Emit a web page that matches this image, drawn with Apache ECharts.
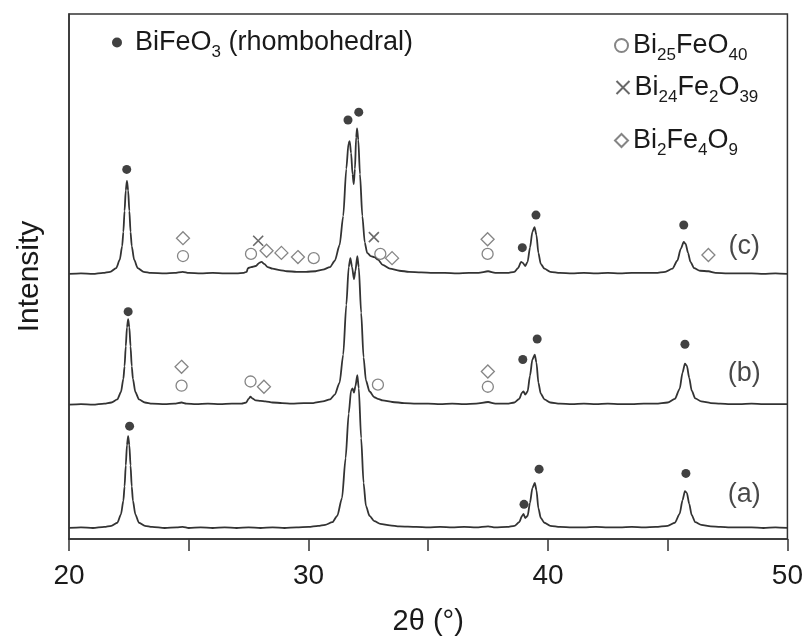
<!DOCTYPE html>
<html>
<head>
<meta charset="utf-8">
<script src="https://cdn.jsdelivr.net/npm/echarts@6/dist/echarts.min.js"></script>
<style>
html,body{margin:0;padding:0;background:#fff;}
#chart{width:806px;height:641px;}
</style>
</head>
<body>
<div id="chart"></div>
<script>
// ---- Data (2θ in degrees, intensity in arbitrary units above each pattern's own baseline) ----
const patternA = [
[20.0,0],[20.5,1],[21.0,0],[21.47,2],[21.77,4],[22.02,10],[22.17,26],[22.27,52],[22.32,79],[22.37,119],[22.42,158],[22.47,175],[22.52,158],[22.57,119],[22.62,79],[22.67,52],[22.77,26],[22.92,10],[23.17,4],[23.47,2],
[24.0,0],[24.5,1],[24.75,2],[25.0,0],[25.5,1],[26.0,0],[26.5,1],[27.0,0],[27.5,1],[28.0,0],[28.5,1],[29.0,0],[29.5,1],[30.0,2],[30.4,4],[30.7,6],[31.0,11],[31.2,23],[31.4,57],[31.55,133],[31.68,218],[31.78,262],[31.84,266],[31.9,258],[31.96,270],[32.04,291],[32.1,266],[32.2,171],[32.3,86],[32.4,42],[32.55,23],[32.75,13],[33.0,8],[33.4,5],[33.8,3],
[34.5,2],[35.0,1],[35.5,2],[36.0,1],[36.5,2],[37.0,1],[37.5,3],[37.8,1],[38.3,2],[38.6,4],[38.8,11],[38.92,23],[38.98,27],[39.05,19],[39.15,23],[39.25,48],[39.35,76],[39.45,86],[39.52,72],[39.6,38],[39.7,19],[39.85,10],[40.1,4],[40.5,2],
[41.0,1],[41.5,1],[42.0,2],[42.5,1],[43.0,1],[43.5,2],[44.0,1],[44.5,2],[45.0,4],[45.3,10],[45.5,27],[45.62,53],[45.72,70],[45.8,67],[45.9,46],[46.0,25],[46.15,11],[46.4,6],[46.8,3],[47.2,2],[47.6,1],[48.0,1],[48.5,1],[49.0,0],[49.5,1],[50.0,0]
];
const patternB = [
[20.0,0],[20.5,1],[21.0,0],[21.47,2],[21.77,4],[22.02,10],[22.17,24],[22.27,49],[22.32,73],[22.37,111],[22.42,147],[22.47,163],[22.52,147],[22.57,111],[22.62,73],[22.67,49],[22.77,24],[22.92,10],[23.17,4],[23.47,2],
[24.0,1],[24.4,2],[24.7,4],[24.9,2],[25.3,1],[25.8,2],[26.3,1],[26.8,2],[27.2,2],[27.4,4],[27.5,11],[27.58,15],[27.65,12],[27.8,8],[28.0,7],[28.2,6],[28.5,4],[28.9,3],[29.3,2],[29.8,3],[30.2,3],[30.6,6],[30.9,10],[31.1,19],[31.3,42],[31.45,95],[31.58,190],[31.68,262],[31.75,279],[31.82,262],[31.9,239],[31.96,255],[32.04,283],[32.1,262],[32.2,175],[32.3,90],[32.4,46],[32.55,25],[32.75,14],[32.9,11],[33.1,8],[33.5,5],
[34.0,3],[34.5,2],[35.0,2],[35.5,1],[36.0,2],[36.5,1],[37.0,2],[37.5,5],[37.8,2],[38.3,2],[38.6,4],[38.8,11],[38.92,23],[38.98,25],[39.05,19],[39.15,25],[39.25,55],[39.35,86],[39.45,95],[39.52,80],[39.6,42],[39.7,21],[39.85,10],[40.1,4],[40.5,2],
[41.0,1],[41.5,2],[42.0,1],[42.5,2],[43.0,1],[43.5,1],[44.0,2],[44.5,2],[45.0,4],[45.3,11],[45.5,30],[45.62,61],[45.72,78],[45.8,74],[45.9,51],[46.0,27],[46.15,12],[46.4,6],[46.8,3],[47.2,2],[47.6,1],[48.0,1],[48.5,2],[49.0,1],[49.5,1],[50.0,1]
];
const patternC = [
[20.0,0],[20.5,1],[21.0,0],[21.42,2],[21.72,4],[21.97,11],[22.12,27],[22.22,53],[22.27,80],[22.32,120],[22.37,159],[22.42,177],[22.47,159],[22.52,120],[22.57,80],[22.62,53],[22.72,27],[22.87,11],[23.12,4],[23.42,2],
[24.0,1],[24.4,2],[24.75,4],[25.0,2],[25.5,1],[26.0,2],[26.5,1],[27.0,1],[27.3,2],[27.42,4],[27.47,11],[27.6,13],[27.8,15],[27.95,21],[28.04,23],[28.15,19],[28.3,13],[28.5,10],[28.8,7],[29.1,5],[29.5,4],[29.9,4],[30.3,5],[30.6,8],[30.9,13],[31.1,25],[31.3,55],[31.45,110],[31.58,200],[31.67,248],[31.72,253],[31.78,230],[31.84,190],[31.89,171],[31.94,200],[31.99,260],[32.03,277],[32.08,255],[32.15,190],[32.25,110],[32.35,60],[32.45,40],[32.6,34],[32.75,32],[32.9,27],[33.1,17],[33.4,10],[33.8,6],
[34.2,4],[34.7,3],[35.2,2],[35.7,2],[36.2,1],[36.7,2],[37.1,2],[37.5,5],[37.8,2],[38.3,2],[38.6,4],[38.75,11],[38.88,23],[38.95,21],[39.05,15],[39.15,23],[39.25,50],[39.35,80],[39.44,89],[39.52,74],[39.6,40],[39.7,19],[39.85,10],[40.1,4],[40.5,2],
[41.0,1],[41.5,2],[42.0,1],[42.5,2],[43.0,1],[43.5,2],[44.0,2],[44.5,2],[44.9,4],[45.2,10],[45.4,25],[45.55,48],[45.67,61],[45.75,57],[45.85,40],[45.95,23],[46.1,11],[46.35,6],[46.7,5],[47.0,2],[47.5,1],[48.0,1],[48.5,1],[49.0,0],[49.5,1],[50.0,0]
];
// vertical offsets of the stacked patterns
const offsetA = 21;
const offsetB = 256;
const offsetC = 505;

// phase markers [2θ, intensity on the plot scale]
const markBiFeO3 = [[22.41,704],[31.65,798],[32.1,813],[38.93,555],[39.5,617],[45.67,598],
                    [22.47,433],[38.95,342],[39.55,381],[45.72,371],
                    [22.53,215],[39.0,66],[39.63,133],[45.76,125]];
const markBi25FeO40 = [[24.76,539],[27.6,543],[30.22,535],[33.0,543],[37.48,543],
                       [24.70,292],[27.58,300],[32.9,294],[37.49,290]];
const markBi24Fe2O39 = [[27.9,568],[32.73,575]];
const markBi2Fe4O9 = [[24.76,573],[28.25,549],[28.87,545],[29.56,537],[33.49,535],[37.48,571],[46.70,541],
                      [24.70,328],[28.14,290],[37.49,319]];

const sampleNames = ['(a)','(b)','(c)'];
const sampleLabelPos = [[48.2,84],[48.2,315],[48.2,558]];

const xTicks = [20,30,40,50];

// ---- Build chart ----
const FONT = 'Liberation Sans, Arial, Helvetica, sans-serif';
function shift(arr, off){ return arr.map(p => [p[0], p[1] + off]); }

const lineStyleCommon = {color:'#333', width:1.8};
function traceSeries(name, data){
  return {name:name, type:'line', data:data, showSymbol:false, symbol:'none',
    smooth:0.25, smoothMonotone:'x', lineStyle:lineStyleCommon, silent:true, z:2};
}

const legendNames = {
  'BiFeO3':'{n|BiFeO}{s|3}{n| (rhombohedral)}',
  'Bi25FeO40':'{n|Bi}{s|25}{n|FeO}{s|40}',
  'Bi24Fe2O39':'{n|Bi}{s|24}{n|Fe}{s|2}{n|O}{s|39}',
  'Bi2Fe4O9':'{n|Bi}{s|2}{n|Fe}{s|4}{n|O}{s|9}'
};
const richStyles = {
  n:{fontSize:27, fontFamily:FONT, color:'#1a1a1a', lineHeight:36},
  s:{fontSize:17, fontFamily:FONT, color:'#1a1a1a', verticalAlign:'bottom'}
};
function legendItem(name, left, top, size, pad){
  return {data:[name], left:left, top:top, itemWidth:size, itemHeight:size, selectedMode:false,
    formatter:n => legendNames[n], textStyle:{rich:richStyles, padding:[0,0,0,pad]}};
}

const chart = echarts.init(document.getElementById('chart'), null, {renderer:'canvas'});
chart.setOption({
  animation:false,
  backgroundColor:'#fff',
  grid:{left:69, right:18, top:14, bottom:100, show:true, borderColor:'#333', borderWidth:1.5, backgroundColor:'transparent'},
  legend:[
    legendItem('BiFeO3', 107, 24, 10, 8),
    legendItem('Bi25FeO40', 609, 27, 13, 0),
    legendItem('Bi24Fe2O39', 609, 69, 13, 0),
    legendItem('Bi2Fe4O9', 609, 122, 13, 0)
  ],
  xAxis:{type:'value', min:20, max:50, interval:5,
    axisLine:{lineStyle:{color:'#333', width:1.5}},
    axisTick:{show:true, inside:false, length:12, lineStyle:{color:'#333', width:1.5}},
    axisLabel:{fontSize:28, fontFamily:FONT, color:'#1a1a1a', margin:23,
      formatter:v => xTicks.indexOf(v) >= 0 ? String(v) : ''},
    splitLine:{show:false},
    name:'2θ (°)', nameLocation:'middle', nameGap:68,
    nameTextStyle:{fontSize:29, fontFamily:FONT, color:'#1a1a1a'}},
  yAxis:{type:'value', min:0, max:1000,
    axisLine:{show:true, lineStyle:{color:'#333', width:1.5}},
    axisTick:{show:false}, axisLabel:{show:false}, splitLine:{show:false},
    name:'Intensity', nameLocation:'middle', nameGap:24,
    nameTextStyle:{fontSize:30, fontFamily:FONT, color:'#1a1a1a'}},
  series:[
    traceSeries('(a)', shift(patternA, offsetA)),
    traceSeries('(b)', shift(patternB, offsetB)),
    traceSeries('(c)', shift(patternC, offsetC)),
    {name:'BiFeO3', type:'scatter', data:markBiFeO3, symbol:'circle', symbolSize:9,
     itemStyle:{color:'#111'}, z:5},
    {name:'Bi25FeO40', type:'scatter', data:markBi25FeO40, symbol:'circle', symbolSize:11,
     itemStyle:{color:'#fff', borderColor:'#666', borderWidth:1.3}, z:5},
    {name:'Bi24Fe2O39', type:'scatter', data:markBi24Fe2O39, symbol:'path://M0,0L10,10M10,0L0,10', symbolSize:10,
     itemStyle:{color:'none', borderColor:'#444', borderWidth:1.6}, z:5},
    {name:'Bi2Fe4O9', type:'scatter', data:markBi2Fe4O9, symbol:'diamond', symbolSize:13,
     itemStyle:{color:'#fff', borderColor:'#666', borderWidth:1.3}, z:5},
    {name:'sampleLabels', type:'scatter', symbolSize:1, silent:true, itemStyle:{color:'rgba(0,0,0,0)'},
     data:sampleNames.map((n,i) => ({name:n, value:sampleLabelPos[i]})),
     label:{show:true, position:'inside', formatter:p => p.name, fontSize:27, fontFamily:FONT, color:'#1a1a1a'}, z:6}
  ]
});
</script>
</body>
</html>
